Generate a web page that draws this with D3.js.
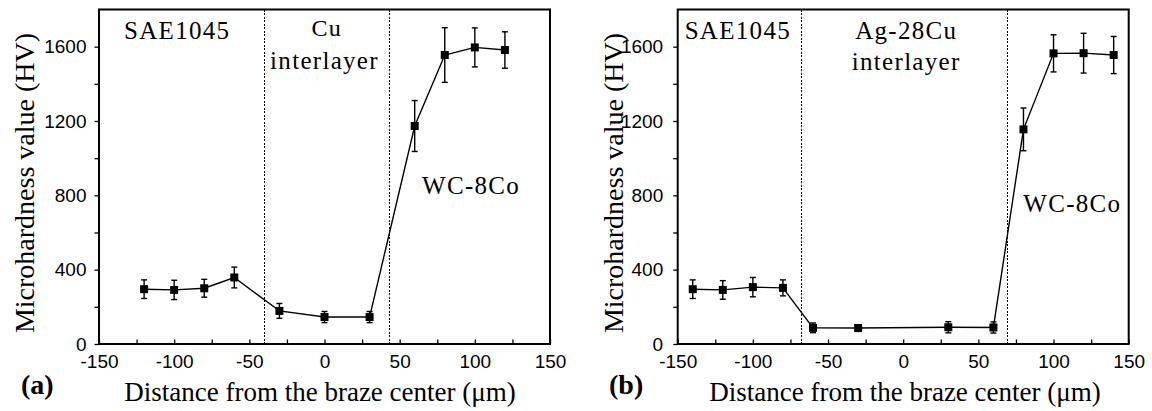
<!DOCTYPE html>
<html>
<head>
<meta charset="utf-8">
<script src="https://cdn.jsdelivr.net/npm/d3@7"></script>
<style>
  html, body { margin: 0; padding: 0; background: #fff; }
  svg { display: block; }
  .serif { font-family: "Liberation Serif", "Times New Roman", serif; fill: #000; }
  .tick text { font-family: "Liberation Sans", Arial, sans-serif; font-size: 19px; fill: #000; }
  .tick line { stroke: #000; stroke-width: 1.3; }
</style>
</head>
<body>
<svg id="chart" width="1152" height="411"></svg>
<script>
// Panel (a): SAE1045 / Cu interlayer / WC-8Co
const distA = [-120, -100, -80, -60, -30, 0, 30, 60, 80, 100, 120];
const hvA   = [295, 291, 300, 358, 178, 145, 145, 1173, 1555, 1596, 1582];
const errA  = [50, 52, 48, 56, 40, 30, 30, 137, 147, 105, 98];
const boundsA = [-40, 43];

// Panel (b): SAE1045 / Ag-28Cu interlayer / WC-8Co
const distB = [-140, -120, -100, -80, -60, -30, 30, 60, 80, 100, 120, 140];
const hvB   = [295, 291, 306, 302, 87, 86, 90, 89, 1155, 1564, 1565, 1555];
const errB  = [50, 50, 52, 43, 26, 18, 30, 30, 115, 100, 107, 100];
const boundsB = [-68, 69];

// Axis ticks
const xMajor = [-150, -100, -50, 0, 50, 100, 150];
const xMinor = [-125, -75, -25, 25, 75, 125];
const yMajor = [0, 400, 800, 1200, 1600];
const yMinor = [200, 600, 1000, 1400];

// Region annotations: [text, x (µm), y (HV), size]
const notesA = [
  ["SAE1045", -98, 1641, 25],
  ["Cu", 1.5, 1655, 24],
  ["interlayer", 0, 1480, 25],
  ["WC-8Co", 97.5, 806, 25]
];
const notesB = [
  ["SAE1045", -110, 1641, 25],
  ["Ag-28Cu", 2, 1641, 25],
  ["interlayer", 2, 1472, 25],
  ["WC-8Co", 112.5, 712, 25]
];

const xTitle = "Distance from the braze center (\u03bcm)";
const yTitle = "Microhardness value (HV)";

const svg = d3.select("#chart");

function panel(cfg) {
  const x = d3.scaleLinear().domain([-150, 150]).range([cfg.left, cfg.left + 451]);
  const y = d3.scaleLinear().domain([0, 1800]).range([344, 9.5]);
  const g = svg.append("g");

  // x axis: ticks point into the plot
  const xa = g.append("g").attr("transform", "translate(0,344)")
    .call(d3.axisBottom(x).tickValues(xMajor.concat(xMinor).sort(d3.ascending))
      .tickSize(-4.5).tickPadding(11)
      .tickFormat(d => xMajor.includes(d) ? d3.format("d")(d).replace("\u2212", "-") : ""));
  xa.select(".domain").remove();

  // y axis: ticks point outward
  const ya = g.append("g").attr("transform", `translate(${cfg.left},0)`)
    .call(d3.axisLeft(y).tickValues(yMajor.concat(yMinor).sort(d3.ascending))
      .tickSize(4.5).tickPadding(cfg.yPad)
      .tickFormat(d => yMajor.includes(d) ? String(d) : ""));
  ya.select(".domain").remove();

  // dotted boundary lines between regions
  g.selectAll("line.bound").data(cfg.bounds).join("line")
    .attr("class", "bound")
    .attr("x1", d => Math.round(x(d)) + 0.5).attr("x2", d => Math.round(x(d)) + 0.5)
    .attr("y1", y(1800)).attr("y2", y(0))
    .attr("stroke", "#000").attr("stroke-width", 1.2)
    .attr("stroke-dasharray", "2,1.5")
    .attr("shape-rendering", "crispEdges");

  const pts = cfg.dist.map((d, i) => ({ d, v: cfg.hv[i], e: cfg.err[i] }));

  // connecting line
  g.append("path").datum(pts)
    .attr("fill", "none").attr("stroke", "#000").attr("stroke-width", 1.4)
    .attr("d", d3.line().x(p => x(p.d)).y(p => y(p.v)));

  // error bars
  const eb = g.selectAll("g.err").data(pts).join("g").attr("class", "err")
    .attr("stroke", "#000").attr("stroke-width", 1.4);
  eb.append("line")
    .attr("x1", p => x(p.d)).attr("x2", p => x(p.d))
    .attr("y1", p => y(p.v - p.e)).attr("y2", p => y(p.v + p.e));
  eb.append("line")
    .attr("x1", p => x(p.d) - 3).attr("x2", p => x(p.d) + 3)
    .attr("y1", p => y(p.v + p.e)).attr("y2", p => y(p.v + p.e));
  eb.append("line")
    .attr("x1", p => x(p.d) - 3).attr("x2", p => x(p.d) + 3)
    .attr("y1", p => y(p.v - p.e)).attr("y2", p => y(p.v - p.e));

  // square markers
  g.selectAll("rect.pt").data(pts).join("rect").attr("class", "pt")
    .attr("x", p => x(p.d) - 4).attr("y", p => y(p.v) - 4)
    .attr("width", 8).attr("height", 8).attr("fill", "#000");

  // frame
  g.append("rect")
    .attr("x", x(-150)).attr("y", y(1800))
    .attr("width", x(150) - x(-150)).attr("height", y(0) - y(1800))
    .attr("fill", "none").attr("stroke", "#000").attr("stroke-width", 2);

  // region annotations
  g.selectAll("text.note").data(cfg.notes).join("text")
    .attr("class", "serif note")
    .attr("x", n => x(n[1])).attr("y", n => y(n[2]))
    .attr("text-anchor", "middle")
    .style("font-size", n => n[3] + "px")
    .style("letter-spacing", "1.3px")
    .text(n => n[0]);

  // axis titles
  g.append("text").attr("class", "serif")
    .attr("x", cfg.xTitleX).attr("y", 401)
    .attr("text-anchor", "middle").style("font-size", "27px")
    .text(xTitle);
  g.append("text").attr("class", "serif")
    .attr("transform", `translate(${cfg.yTitleX},183) rotate(-90)`)
    .attr("text-anchor", "middle").style("font-size", "28px")
    .text(yTitle);

  // panel tag
  g.append("text").attr("class", "serif")
    .attr("x", cfg.tagX).attr("y", 394)
    .style("font-size", "28px").style("font-weight", "bold")
    .text(cfg.tag);
}

panel({ left: 99, dist: distA, hv: hvA, err: errA, bounds: boundsA, notes: notesA,
        yPad: 8, xTitleX: 320, yTitleX: 34, tagX: 21, tag: "(a)" });
panel({ left: 677.7, dist: distB, hv: hvB, err: errB, bounds: boundsB, notes: notesB,
        yPad: 10, xTitleX: 905, yTitleX: 623, tagX: 609, tag: "(b)" });
</script>
</body>
</html>
